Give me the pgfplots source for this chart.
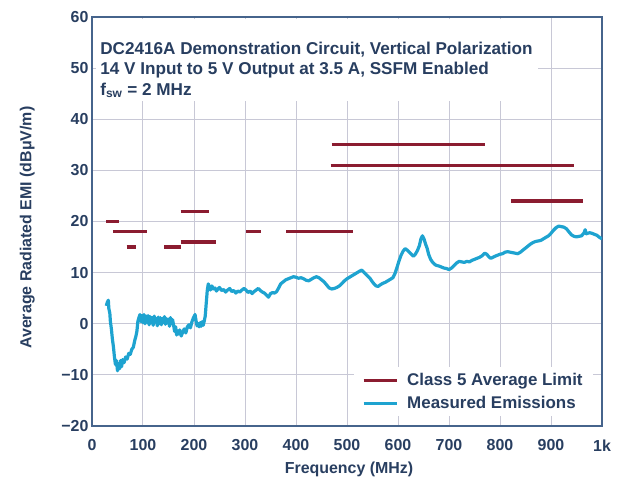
\documentclass[border=0pt]{standalone}
\usepackage{pgfplots}
\pgfplotsset{compat=1.18}
\usepackage{fontspec}
\setmainfont{Liberation Sans}
\definecolor{limitred}{RGB}{139,28,48}
\definecolor{emiblue}{RGB}{30,163,208}
\definecolor{txt}{RGB}{40,62,96}
\definecolor{framec}{RGB}{70,100,140}
\definecolor{gridc}{RGB}{200,200,214}

\begin{document}
\begin{tikzpicture}
\begin{axis}[
  scale only axis, width=510bp, height=409bp,
  xmin=0, xmax=1000, ymin=-20, ymax=60,
  xtick={0,100,...,1000},
  xticklabels={0,100,200,300,400,500,600,700,800,900,1k},
  ytick={-20,-10,...,60},
  yticklabels={−20,−10,0,10,20,30,40,50,60},
  grid=major, grid style={gridc, line width=1bp},
  major tick length=0pt,
  axis line style={framec, line width=1.6bp},
  tick label style={font=\fontsize{16}{19}\selectfont\bfseries, text=txt},
  xticklabel style={yshift=-10bp},
  xlabel={Frequency (MHz)},
  ylabel={Average Radiated EMI (dBμV/m)},
  label style={font=\fontsize{16}{19}\selectfont\bfseries, text=txt},
  xlabel style={at={(axis description cs:0.504,-0.107)}, anchor=center},
  ylabel style={at={(axis description cs:-0.127,0.485)}, anchor=center},
  legend cell align=left,
  legend style={at={(0.982,0.024)}, anchor=south east, fill=white, draw=none,
    font=\fontsize{17}{20}\selectfont\bfseries, text=txt,
    row sep=5bp, inner xsep=8bp, inner ysep=4bp},
  legend image code/.code={\draw[#1, line width=3bp] (0bp,0bp) -- (33bp,0bp);
    \path (40bp,0bp);},
]
% limit segments
\addplot[limitred, line width=3.2bp, unbounded coords=jump] coordinates {
(28,20) (53,20) (53,nan)
(41,18) (108,18) (108,nan)
(68,15) (87,15) (87,nan)
(142,15) (175,15) (175,nan)
(174,16) (243,16) (243,nan)
(174,22) (230,22) (230,nan)
(302,18) (331,18) (331,nan)
(381,18) (512,18) (512,nan)
(470,35) (771,35) (771,nan)
(468,31) (946,31) (946,nan)
(822,24) (962,24)
};
\addlegendentry{Class 5 Average Limit}
% measured emissions
\addplot[emiblue, line width=3.2bp, line join=round] coordinates {
(28,3.5) (30,4.2) (32,4.6) (33,3.0) (35,2.0) (36,0.5) (38,-1.0) (40,-3.0)
(42,-4.5) (44,-6.5) (46,-8.0) (48,-7.2) (50,-9.2) (52,-8.0) (54,-8.8) (56,-7.2)
(58,-8.4) (60,-7.0) (63,-7.6) (66,-6.5) (69,-6.9) (72,-5.8) (75,-6.0) (78,-5.0)
(81,-4.6) (84,-3.2) (86,-2.5) (88,-1.5) (90,0.5) (92,1.2) (94,1.8) (96,0.4)
(98,1.6) (100,0.2) (102,1.8) (104,0.0) (106,1.5) (108,0.3) (110,1.6) (112,-0.2)
(114,1.4) (116,0.2) (118,1.2) (120,-0.3) (122,1.5) (124,0.4) (126,1.0) (128,-0.4)
(130,1.3) (132,0.0) (134,1.2) (136,-0.2) (138,1.0) (140,0.3) (142,1.4) (144,-0.1)
(146,1.0) (148,0.2) (150,0.9) (152,-0.5) (154,1.2) (156,0.0) (158,0.8) (160,-0.3)
(162,-1.5) (164,-0.6) (166,-2.2) (168,-1.4) (170,-2.0) (172,-1.2) (175,-2.4) (178,-1.6)
(181,-1.0) (184,-1.8) (187,-0.6) (190,-0.2) (193,-0.8) (196,0.4) (199,1.2) (202,1.8)
(204,0.6) (206,-0.4) (208,0.0) (210,-0.6) (212,0.2) (214,-0.5) (216,0.4) (218,-0.3)
(220,0.5) (222,1.5) (224,4.0) (226,6.5) (228,7.8) (230,7.2) (232,6.6) (235,7.4)
(238,6.8) (241,7.0) (244,6.4) (247,6.8) (250,7.1) (254,6.5) (258,6.7) (262,6.2)
(266,6.6) (270,6.9) (274,6.3) (278,6.5) (282,6.0) (286,6.4) (290,6.2) (294,6.6)
(298,6.9) (302,6.6) (306,6.1) (310,6.4) (314,5.9) (318,6.3) (322,6.6) (326,6.9)
(330,6.5) (334,6.2) (338,6.0) (342,5.6) (346,5.2) (350,5.9) (354,6.1) (358,6.0)
(362,6.3) (366,7.0) (370,7.8) (375,8.2) (380,8.6) (385,8.8) (390,9.0) (395,9.2)
(400,9.1) (405,8.9) (410,9.0) (415,8.8) (420,8.5) (425,8.4) (430,8.7) (435,9.0)
(440,9.2) (445,9.0) (450,8.6) (455,8.2) (460,7.6) (465,7.0) (470,6.8) (475,6.9)
(480,7.1) (485,7.4) (490,7.9) (495,8.4) (500,8.8) (505,9.1) (510,9.4) (515,9.7)
(520,10.0) (525,10.3) (529,10.5) (533,10.1) (537,9.7) (541,9.3) (545,8.9) (549,8.3)
(553,7.8) (557,7.4) (561,7.3) (565,7.6) (570,7.9) (575,8.1) (580,8.4) (585,8.7)
(590,9.0) (594,9.8) (598,11.0) (602,12.3) (606,13.4) (610,14.2) (614,14.7) (618,14.4)
(622,14.0) (626,13.6) (630,13.2) (634,13.6) (638,14.3) (642,15.3) (645,16.6) (648,17.2)
(651,16.6) (654,15.6) (657,14.8) (660,13.6) (664,12.6) (668,12.0) (672,11.6) (676,11.4)
(680,11.3) (685,11.1) (690,10.9) (695,10.8) (700,10.6) (705,10.9) (710,11.4) (715,11.9)
(720,12.2) (725,12.1) (730,12.0) (735,12.2) (740,12.1) (745,12.4) (750,12.6) (755,12.8)
(760,13.0) (765,13.3) (770,13.8) (774,13.6) (778,13.1) (782,12.8) (786,13.0) (790,13.2)
(795,13.4) (800,13.6) (805,13.7) (810,14.0) (815,14.1) (820,14.0) (825,13.9) (830,13.8)
(835,13.7) (840,14.0) (845,14.4) (850,14.8) (855,15.2) (860,15.6) (865,15.9) (870,16.1)
(875,16.2) (880,16.3) (885,16.6) (890,16.9) (895,17.2) (900,17.7) (905,18.3) (910,18.8)
(915,19.1) (920,19.0) (925,18.9) (930,18.6) (935,18.0) (940,17.4) (945,17.1) (950,17.0)
(955,17.1) (960,17.2) (965,17.8) (967,18.4) (969,17.6) (972,17.7) (976,17.8) (980,17.7)
(985,17.5) (990,17.3) (995,16.9) (1000,16.6)
};
\addlegendentry{Measured Emissions}
% title block
\fill[white] (axis cs:8,43.5) rectangle (axis cs:874,59.7);
\node[anchor=north west, align=left, inner sep=0pt, text=txt,
  font=\fontsize{17.2}{20.5}\selectfont\bfseries] at (axis cs:16,55.2)
  {DC2416A Demonstration Circuit, Vertical Polarization\\
   14 V Input to 5 V Output at 3.5 A, SSFM Enabled\\
   f\textsubscript{sw} = 2 MHz};
\end{axis}
\pgfresetboundingbox
\path (-92bp,-51bp) rectangle (531bp,426bp);
\end{tikzpicture}
\end{document}
